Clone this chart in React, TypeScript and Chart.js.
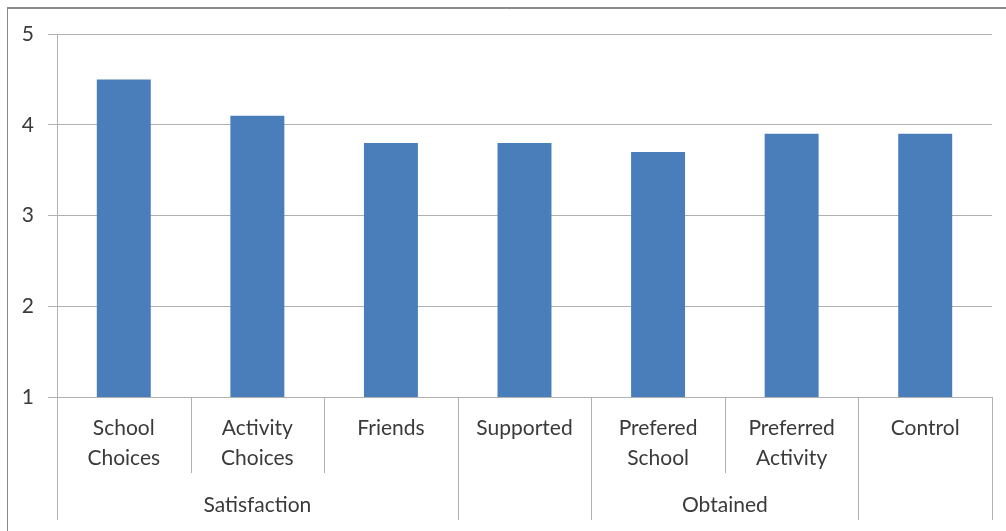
import React, { useEffect, useRef } from "react";
import { Chart, registerables } from "chart.js";

Chart.register(...registerables);

const categories: string[][] = [
  ["School", "Choices"],
  ["Activity", "Choices"],
  ["Friends"],
  ["Supported"],
  ["Prefered", "School"],
  ["Preferred", "Activity"],
  ["Control"],
];
const values: number[] = [4.5, 4.1, 3.8, 3.8, 3.7, 3.9, 3.9];
const groupNames: string[] = ["Satisfaction", "", "Obtained", ""];
const groupSizes: number[] = [3, 1, 2, 1];
const yTicks: number[] = [1, 2, 3, 4, 5];

const FONT = "Lato, 'Open Sans', sans-serif";
const TEXT = "#3a3a3a";
const LINE = "#b0b0b0";

const multiAxisPlugin = {
  id: "multiAxis",
  beforeDraw(chart: any) {
    const ctx = chart.ctx;
    ctx.save();
    ctx.strokeStyle = "#8a8a8a";
    ctx.lineWidth = 1;
    ctx.strokeRect(7.5, 7.5, 1100, 600);
    ctx.beginPath();
    ctx.moveTo(7, 8.5);
    ctx.lineTo(1006, 8.5);
    ctx.stroke();
    ctx.restore();
  },
  afterDraw(chart: any) {
    const ctx = chart.ctx;
    const xs = chart.scales.x;
    const n = categories.length;
    const step = xs.width / n;
    const base = chart.chartArea.bottom;
    const groupBounds = new Set<number>();
    let acc = 0;
    groupBounds.add(0);
    groupSizes.forEach((s) => {
      acc += s;
      groupBounds.add(acc);
    });
    ctx.save();
    ctx.strokeStyle = LINE;
    ctx.lineWidth = 1;
    for (let b = 0; b <= n; b++) {
      const x = Math.round(xs.left + b * step) + 0.5;
      const end = groupBounds.has(b) ? base + 123 : base + 76;
      ctx.beginPath();
      ctx.moveTo(x, base);
      ctx.lineTo(x, end);
      ctx.stroke();
    }
    ctx.fillStyle = TEXT;
    ctx.font = `21px ${FONT}`;
    ctx.textAlign = "center";
    ctx.textBaseline = "middle";
    categories.forEach((lines, i) => {
      const cx = xs.getPixelForValue(i);
      lines.forEach((t, k) => {
        ctx.fillText(t, cx, base + 31 + k * 30);
      });
    });
    let start = 0;
    groupNames.forEach((g, gi) => {
      const end = start + groupSizes[gi];
      const cx = xs.left + ((start + end) / 2) * step;
      if (g) ctx.fillText(g, cx, base + 108);
      start = end;
    });
    ctx.restore();
  },
};

export default function App() {
  const ref = useRef<HTMLCanvasElement>(null);
  useEffect(() => {
    if (!ref.current) return;
    const chart = new Chart(ref.current, {
      type: "bar",
      data: {
        labels: categories.map((c) => c.join(" ")),
        datasets: [
          {
            data: values,
            backgroundColor: "#4A7EBB",
            borderWidth: 0,
            barPercentage: 0.404,
            categoryPercentage: 1,
          },
        ],
      },
      options: {
        animation: false,
        responsive: false,
        layout: { padding: { top: 34, right: 14, left: 0, bottom: 0 } },
        plugins: { legend: { display: false }, tooltip: { enabled: false } },
        scales: {
          x: {
            offset: true,
            grid: { display: false },
            border: { display: false },
            ticks: { display: false },
            afterFit: (s: any) => {
              s.height = 134;
            },
          },
          y: {
            min: 1,
            max: 5,
            afterBuildTicks: (s: any) => {
              s.ticks = yTicks.map((v) => ({ value: v }));
            },
            grid: { color: LINE, tickLength: 9, lineWidth: 1 },
            border: { display: true, color: LINE },
            ticks: {
              padding: 14,
              color: TEXT,
              font: { family: FONT, size: 21 },
            },
            afterFit: (s: any) => {
              s.width = 57;
            },
          },
        },
      },
      plugins: [multiAxisPlugin],
    });
    return () => chart.destroy();
  }, []);
  return (
    <div style={{ position: "fixed", left: 0, top: 0, width: 1006, height: 531 }}>
      <canvas ref={ref} width={1006} height={531} style={{ display: "block" }} />
    </div>
  );
}
